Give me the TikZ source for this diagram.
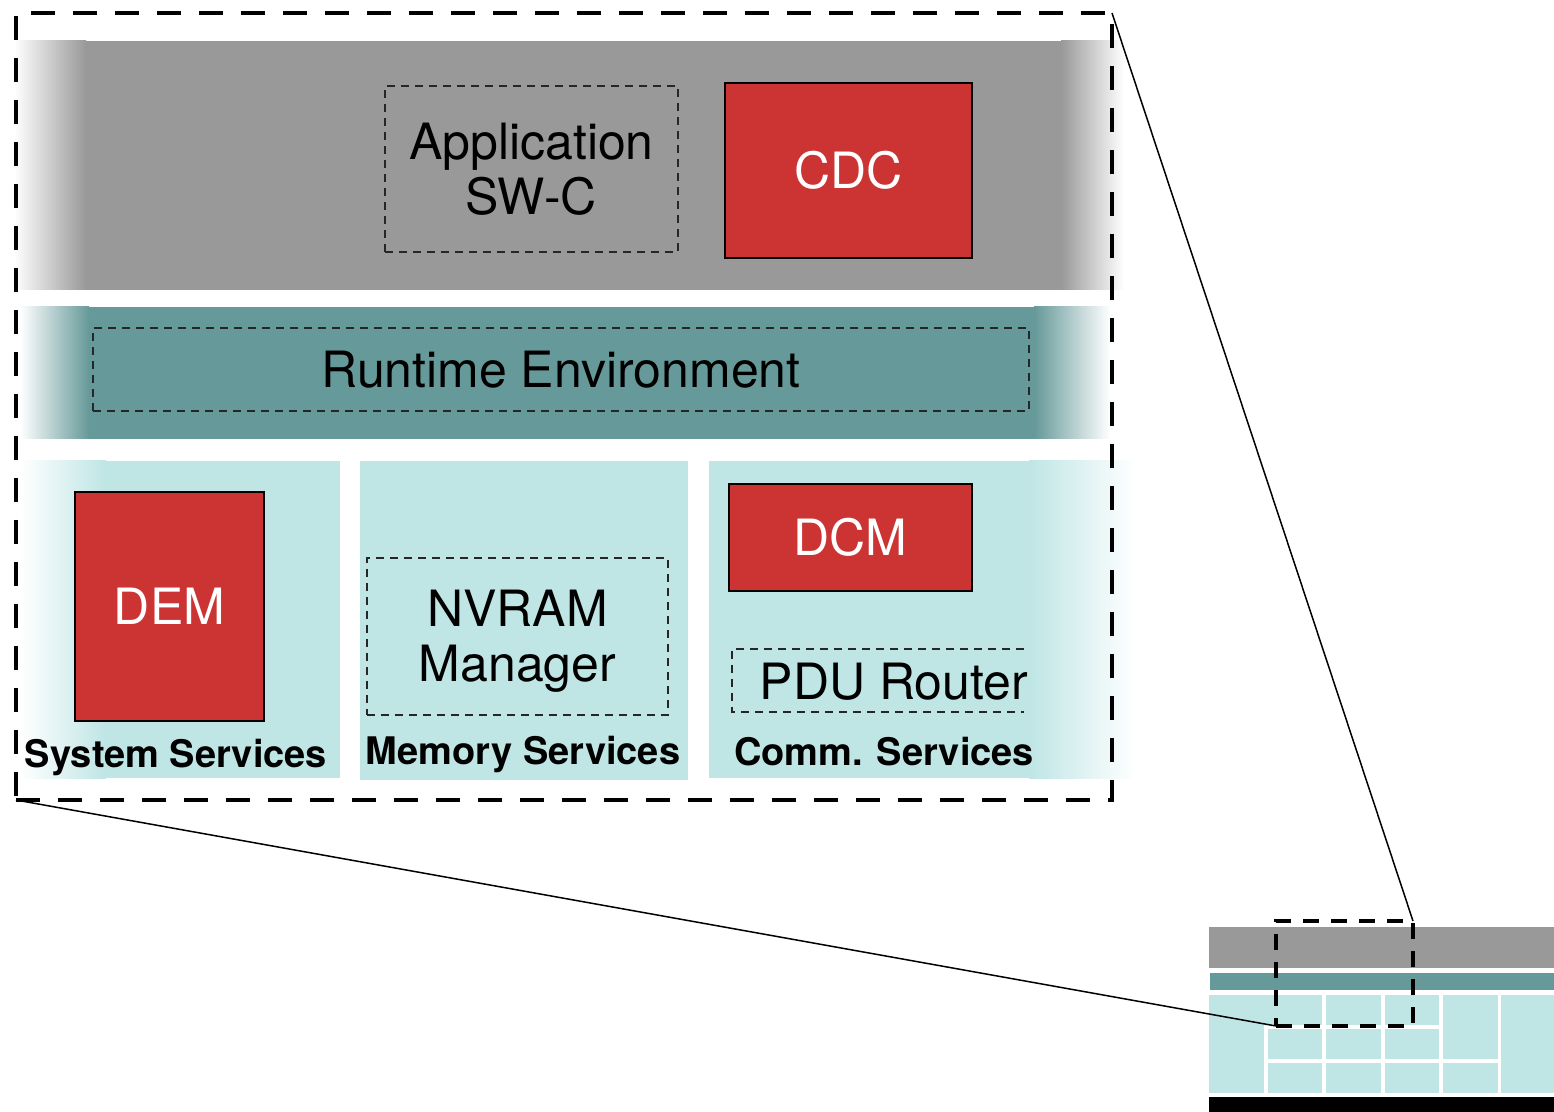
\documentclass[tikz,border=0pt]{standalone}
\usepackage{fontspec}
\setmainfont{TeX Gyre Heros}
\definecolor{bandgray}{HTML}{999999}
\definecolor{bandteal}{HTML}{669999}
\definecolor{lightteal}{HTML}{BFE5E5}
\definecolor{redcol}{HTML}{CC3333}
\begin{document}
\begin{tikzpicture}[x=0.5pt,y=-0.5pt,
  redblock/.style={draw=black, line width=0.8pt, fill=redcol, text=white,
    font=\fontsize{25}{27.5}\selectfont, inner sep=0pt, outer sep=0pt},
  dashline/.style={draw=black!85, dash pattern=on 4pt off 3pt, line width=0.7pt},
  dashbox/.style={dashline, font=\fontsize{25}{27.5}\selectfont, align=center,
    inner sep=0pt, outer sep=0pt},
  grouplabel/.style={font=\bfseries\fontsize{19}{22}\selectfont, inner sep=0pt},
  bigframe/.style={draw=black, line width=2.3pt, dash pattern=on 12pt off 9pt,
    inner sep=0pt, outer sep=0pt},
  miniframe/.style={draw=black, line width=1.7pt, dash pattern=on 8pt off 6pt,
    inner sep=0pt, outer sep=0pt},
  zoomline/.style={draw=black, line width=0.75pt},
  cell/.style={fill=lightteal}
]
\useasboundingbox (0,0) rectangle (1554,1112);

% ---- gray application band
\fill[bandgray] (85,41) rectangle (1062,290);
\shade[left color=white, right color=bandgray] (14,41) rectangle (86,290);
\shade[left color=bandgray, right color=white] (1061,41) rectangle (1124,290);

% ---- teal RTE band
\fill[bandteal] (88,307) rectangle (1035,439);
\shade[left color=white, right color=bandteal] (20,307) rectangle (89,439);
\shade[left color=bandteal, right color=white] (1034,307) rectangle (1110,439);

% ---- light teal service boxes
\fill[lightteal] (105,461) rectangle (340,778);
\shade[left color=white, right color=lightteal] (20,461) rectangle (106,778);
\fill[lightteal] (360,461) rectangle (688,780);
\fill[lightteal] (709,461) rectangle (1030,778);
\shade[left color=lightteal, right color=white] (1029,461) rectangle (1135,778);

% ---- nodes in top band
\node[dashbox, minimum width=146.5pt, minimum height=83pt] (swc) at (531.5,169) {Application\\SW-C};
\node[redblock, minimum width=123.5pt, minimum height=87.5pt] (cdc) at (848.5,170.5) {CDC};

% ---- RTE
\node[dashbox, minimum width=468pt, minimum height=41.5pt] (rte) at (561,369.5) {Runtime Environment};

% ---- services
\node[redblock, minimum width=94.5pt, minimum height=114.5pt] (dem) at (169.5,606.5) {DEM};
\node[dashbox, minimum width=150.5pt, minimum height=78.5pt] (nvram) at (517.5,636.5) {};
\node[font=\fontsize{25}{27.5}\selectfont, align=center, inner sep=0pt] (nvramtext) at (517.5,641) {NVRAM\\Manager};
\node[redblock, minimum width=121.5pt, minimum height=53.5pt] (dcm) at (850.5,537.5) {DCM};
\node[minimum width=146pt, minimum height=31.5pt, inner sep=0pt, outer sep=0pt] (pdu) at (878,680.5) {};
\draw[dashline] (pdu.north east) -- (pdu.north west) -- (pdu.south west) -- (pdu.south east);
\node[font=\fontsize{25}{27.5}\selectfont, inner sep=0pt] (pdutext) at (894,682) {PDU Router};

\node[grouplabel] (sys) at (176,758) {System Services};
\node[grouplabel] (mem) at (523,755) {Memory Services};
\node[grouplabel] (com) at (884,752) {Comm. Services};

% ---- big dashed frame
\node[bigframe, minimum width=548pt, minimum height=393.5pt] (frame) at (564,406.5) {};

% ---- mini overview diagram
\fill[bandgray] (1209,927) rectangle (1554,968);
\fill[bandteal] (1210,973) rectangle (1554,990);
\fill[cell] (1209,995) rectangle (1322,1025);
\fill[cell] (1209,995) rectangle (1264,1093);
\fill[cell] (1326,995) rectangle (1381,1025);
\fill[cell] (1385,995) rectangle (1439,1025);
\fill[cell] (1443,995) rectangle (1498,1059);
\fill[cell] (1501,995) rectangle (1554,1093);
\fill[cell] (1268,1029) rectangle (1322,1059);
\fill[cell] (1326,1029) rectangle (1381,1059);
\fill[cell] (1385,1029) rectangle (1439,1059);
\fill[cell] (1268,1063) rectangle (1322,1093);
\fill[cell] (1326,1063) rectangle (1381,1093);
\fill[cell] (1385,1063) rectangle (1439,1093);
\fill[cell] (1443,1063) rectangle (1498,1093);
\fill[black] (1209,1097) rectangle (1554,1112);

\node[miniframe, minimum width=68.5pt, minimum height=52.5pt] (mini) at (1344.5,973.5) {};

% ---- zoom connectors
\draw[zoomline] (frame.north east) -- (mini.north east);
\draw[zoomline] (frame.south west) -- (mini.south west);
\end{tikzpicture}
\end{document}
